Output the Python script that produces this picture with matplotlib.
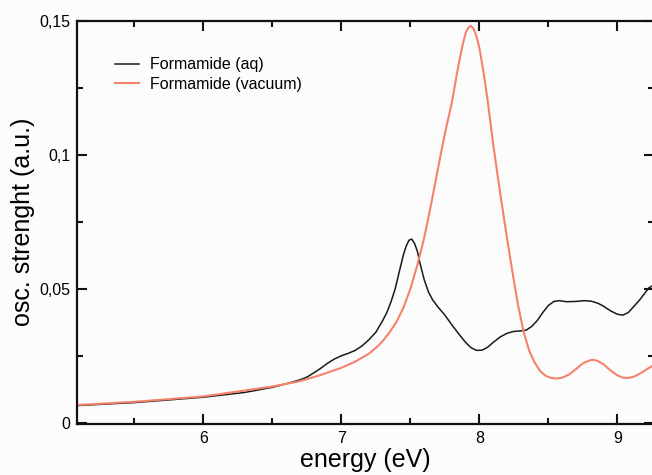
import matplotlib
matplotlib.use("Agg")
import matplotlib.pyplot as plt
from matplotlib.ticker import FixedLocator, FixedFormatter, MultipleLocator

# ---- data ----
aq_energy = [5.09, 5.5, 6.0, 6.3, 6.5, 6.6, 6.7, 6.75, 6.8, 6.85, 6.9, 6.95, 7.0, 7.05,
             7.1, 7.15, 7.2, 7.25, 7.3, 7.33, 7.36, 7.39, 7.42, 7.45, 7.47, 7.49, 7.51,
             7.53, 7.55, 7.57, 7.6, 7.63, 7.66, 7.7, 7.75, 7.8, 7.85, 7.9, 7.94, 7.98,
             8.02, 8.06, 8.1, 8.15, 8.2, 8.25, 8.3, 8.34, 8.38, 8.42, 8.46, 8.5, 8.54,
             8.58, 8.63, 8.7, 8.76, 8.81, 8.86, 8.9, 8.95, 9.0, 9.04, 9.08, 9.12, 9.16,
             9.2, 9.23, 9.26]
aq_osc = [0.0064, 0.0075, 0.0095, 0.0113, 0.0132, 0.0145, 0.0160, 0.0170, 0.0186,
          0.0203, 0.0222, 0.0238, 0.0250, 0.0259, 0.0270, 0.0287, 0.0310, 0.0338,
          0.0382, 0.0412, 0.0452, 0.0500, 0.0565, 0.0628, 0.0660, 0.0682, 0.0686,
          0.0670, 0.0642, 0.0595, 0.0535, 0.0490, 0.0460, 0.0432, 0.0402, 0.0366,
          0.0332, 0.0300, 0.0280, 0.0270, 0.0271, 0.0282, 0.0300, 0.0320, 0.0334,
          0.0341, 0.0343, 0.0346, 0.0360, 0.0382, 0.0412, 0.0438, 0.0453, 0.0456,
          0.0452, 0.0453, 0.0456, 0.0454, 0.0446, 0.0435, 0.0418, 0.0405, 0.0402,
          0.0412, 0.0435, 0.0458, 0.0485, 0.0505, 0.0513]

vac_energy = [5.09, 5.5, 6.0, 6.5, 6.7, 6.85, 7.0, 7.1, 7.2, 7.26, 7.3, 7.35, 7.4, 7.45,
              7.5, 7.55, 7.6, 7.65, 7.7, 7.75, 7.8, 7.85, 7.88, 7.9, 7.92, 7.94, 7.96,
              7.98, 8.0, 8.03, 8.06, 8.1, 8.15, 8.2, 8.25, 8.28, 8.32, 8.36, 8.4, 8.44,
              8.48, 8.52, 8.56, 8.6, 8.65, 8.7, 8.75, 8.8, 8.83, 8.86, 8.9, 8.95, 9.0,
              9.04, 9.08, 9.12, 9.17, 9.22, 9.26]
vac_osc = [0.0066, 0.0078, 0.0098, 0.0135, 0.0155, 0.0178, 0.0205, 0.0228, 0.0258,
           0.0284, 0.0305, 0.0338, 0.0377, 0.0430, 0.0500, 0.0588, 0.0690, 0.0815,
           0.0950, 0.1080, 0.1195, 0.1340, 0.1415, 0.1455, 0.1477, 0.1483, 0.1470,
           0.1442, 0.1400, 0.1310, 0.1204, 0.1040, 0.0860, 0.0690, 0.0530, 0.0440,
           0.0340, 0.0270, 0.0225, 0.0193, 0.0175, 0.0167, 0.0165, 0.0168, 0.0180,
           0.0200, 0.0222, 0.0233, 0.0235, 0.0230, 0.0218, 0.0195, 0.0177, 0.0168,
           0.0167, 0.0172, 0.0185, 0.0202, 0.0214]

series_labels = ["Formamide (aq)", "Formamide (vacuum)"]
x_ticks = [6, 7, 8, 9]
y_ticks = [0, 0.05, 0.1, 0.15]
y_tick_labels = ["0", "0,05", "0,1", "0,15"]

plt.rcParams['font.family'] = ['Liberation Sans', 'DejaVu Sans']

W, H = 652, 475
fig = plt.figure(figsize=(W / 100, H / 100), dpi=100, facecolor='#fcfcfd')
left, right, bottom, top = 77, 654, 424, 20.5
ax = fig.add_axes([left / W, (H - bottom) / H, (right - left) / W, (bottom - top) / H])
ax.set_facecolor('#fcfcfd')

ax.plot(aq_energy, aq_osc, color='#1a1a1a', lw=1.1, label=series_labels[0])
ax.plot(vac_energy, vac_osc, color='#f5826a', lw=1.5, label=series_labels[1])

ax.set_xlim(5.085, 9.265)
ax.set_ylim(-0.0005, 0.1503)

ax.xaxis.set_major_locator(FixedLocator(x_ticks))
ax.xaxis.set_minor_locator(MultipleLocator(0.5))
ax.yaxis.set_major_locator(FixedLocator(y_ticks))
ax.yaxis.set_major_formatter(FixedFormatter(y_tick_labels))
ax.yaxis.set_minor_locator(MultipleLocator(0.025))

ax.tick_params(which='both', direction='in', top=True, right=True, width=1.5,
               labelsize=11.5, color='#111111')
ax.tick_params(which='major', length=7.5, pad=5)
ax.tick_params(which='minor', length=4)
for s in ax.spines.values():
    s.set_linewidth(1.6)
    s.set_color('#111111')

ax.set_xlabel('energy (eV)', fontsize=18, labelpad=1.5)
ax.set_ylabel('osc. strenght (a.u.)', fontsize=18, labelpad=3)

leg = ax.legend(loc='upper left', bbox_to_anchor=(0.054, 0.925), frameon=False,
                fontsize=11.5, handlelength=1.5, handletextpad=0.7, labelspacing=0.3,
                borderaxespad=0)

fig.savefig('out.png', dpi=100, facecolor=fig.get_facecolor())
